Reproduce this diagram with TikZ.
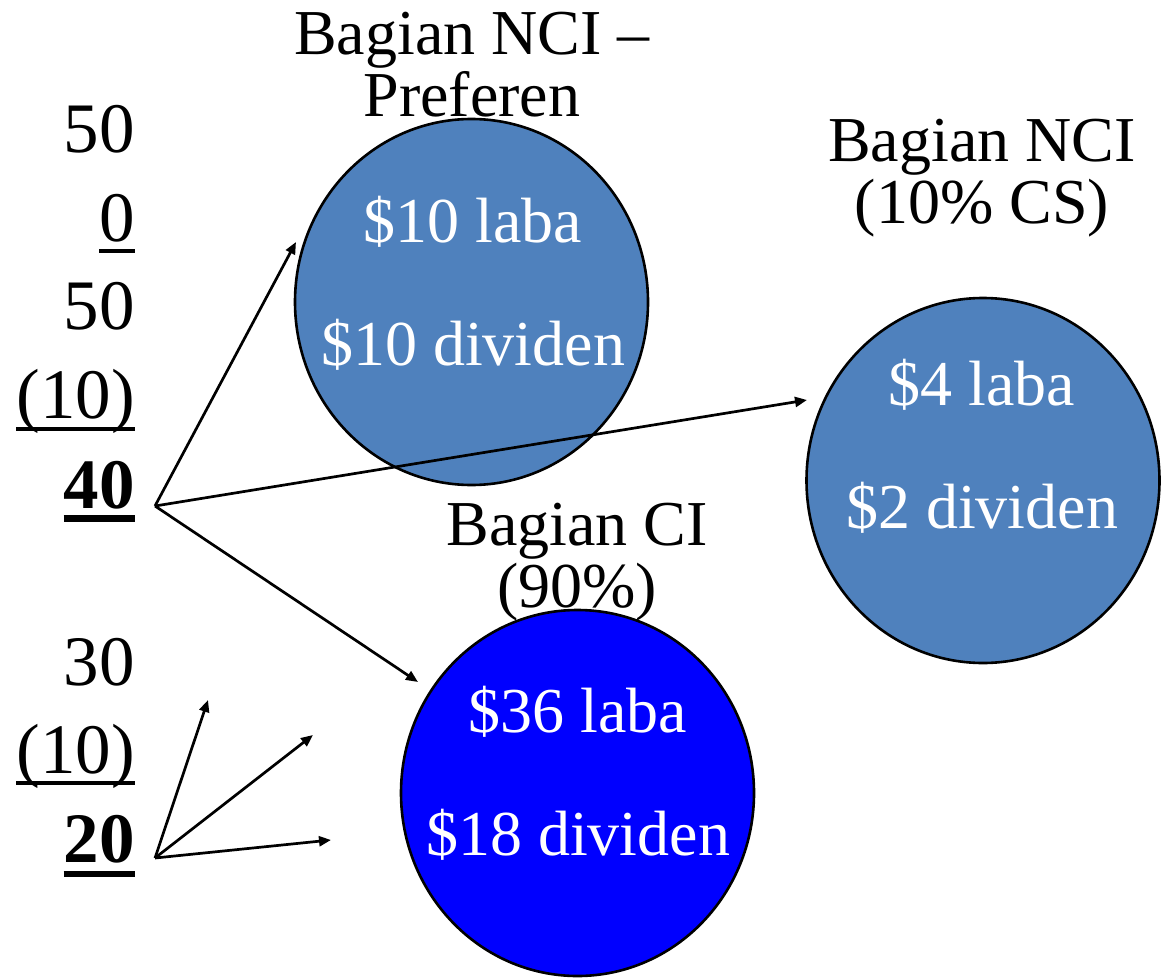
\documentclass[tikz,border=0pt]{standalone}
\usepackage{fontspec}
\setmainfont{Liberation Serif}
\usetikzlibrary{arrows.meta,shapes.geometric}
\definecolor{steel}{HTML}{4F81BD}
\definecolor{pureblue}{HTML}{0000FF}
\begin{document}
\begin{tikzpicture}[x=1pt,y=-1pt,
  num/.style={anchor=base east, inner sep=0pt, font=\fontsize{71}{71}\selectfont},
  lbl/.style={anchor=base, inner sep=0pt, align=center, font=\fontsize{64}{62}\selectfont},
  intext/.style={anchor=base, inner sep=0pt, align=center, text=white, font=\fontsize{64}{123}\selectfont},
  bubble/.style={ellipse, draw=black, line width=2.6pt, inner sep=0pt, minimum width=353pt},
  arr/.style={-{Triangle[length=12pt,width=10pt]}, line width=2.7pt},
  uline/.style={line width=3.2pt},
  buline/.style={line width=6.5pt}]
\useasboundingbox (0,0) rectangle (1162,979);

% bubbles
\node[bubble, fill=steel, minimum height=366pt] (e1) at (471.5,302) {};
\node[bubble, fill=steel, minimum height=365pt] (e2) at (983,480.5) {};
\node[bubble, fill=pureblue, minimum height=366pt] (e3) at (577.5,793) {};

% labels above bubbles (anchor = baseline of last line)
\node[lbl] (l1) at (472,117) {Bagian NCI –\\Preferen};
\node[lbl] (l2) at (982,223) {Bagian NCI\\(10\% CS)};
\node[lbl] (l3) at (577,607) {Bagian CI\\(90\%)};

% texts inside bubbles
\node[intext] (t1) at (473,365) {\$10 laba\\\$10 dividen};
\node[intext] (t2) at (982,528) {\$4 laba\\\$2 dividen};
\node[intext] (t3) at (578,855) {\$36 laba\\\$18 dividen};

% number column
\node[num] (n1) at (135,153) {50};
\node[num] (n2) at (135,241) {0};
\node[num] (n3) at (135,329) {50};
\node[num] (n4) at (135,418) {(10)};
\node[num, font=\fontsize{71}{71}\selectfont\bfseries] (n5) at (135,508) {40};
\node[num] (n6) at (135,685) {30};
\node[num] (n7) at (135,773) {(10)};
\node[num, font=\fontsize{71}{71}\selectfont\bfseries] (n8) at (135,862) {20};

% underlines
\draw[uline] ([yshift=-10pt]n2.base west) -- ([yshift=-10pt]n2.base east);
\draw[uline] ([yshift=-11pt]n4.base west) -- ([yshift=-11pt]n4.base east);
\draw[buline] ([yshift=-10.5pt]n5.base west) -- ([yshift=-10.5pt]n5.base east);
\draw[uline] ([yshift=-10pt]n7.base west) -- ([yshift=-10pt]n7.base east);
\draw[buline] ([yshift=-12pt]n8.base west) -- ([yshift=-12pt]n8.base east);

% arrows
\coordinate (s1) at (155,506);
\coordinate (a1) at (296,242);
\coordinate (a2) at (807,400);
\coordinate (a3) at (418,682);
\coordinate (s2) at (155,858);
\coordinate (b1) at (208,700);
\coordinate (b2) at (313,735);
\coordinate (b3) at (331,840);
\draw[arr] (s1) -- (a1);
\draw[arr] (s1) -- (a2);
\draw[arr] (s1) -- (a3);
\draw[arr] (s2) -- (b1);
\draw[arr] (s2) -- (b2);
\draw[arr] (s2) -- (b3);
\end{tikzpicture}
\end{document}
